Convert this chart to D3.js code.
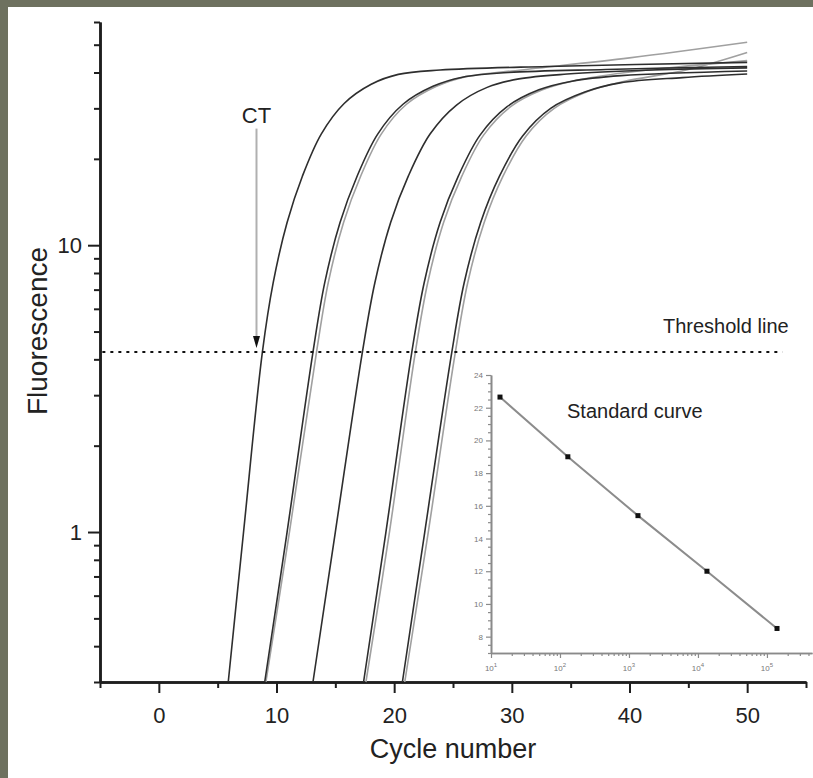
<!DOCTYPE html>
<html>
<head>
<meta charset="utf-8">
<script src="https://cdn.jsdelivr.net/npm/d3@7"></script>
<style>
body { margin: 0; background: #6e715f; }
svg { display: block; font-family: "Liberation Sans", Arial, sans-serif; }
</style>
</head>
<body>
<svg width="813" height="778"></svg>
<script>
// amplification runs, cycle number vs fluorescence
var run1Cycle = [5.9, 7.2, 8.8, 9.72, 10.9, 12.2, 13.8, 15.75, 18.05, 20.35, 23.9, 33, 50];
var run1Fluo  = [0.3, 1.0, 4.24, 7.4, 12.0, 17.4, 24.4, 31.2, 36.4, 39.4, 40.8, 42, 43.4];
var run2Cycle = [9.0, 10.9, 13.1, 14.1, 15.4, 16.85, 18.6, 20.75, 23.3, 25.8, 29.7, 38, 50];
var run2Fluo  = [0.3, 1.0, 4.24, 7.4, 12.0, 17.4, 24.4, 31, 35.8, 38.5, 40, 41, 42];
var run2bCycle = [9.1, 11.1, 13.4, 14.4, 15.7, 17.15, 18.9, 21.05, 23.6, 26.1, 30, 40, 50];
var run2bFluo  = [0.3, 1.0, 4.24, 7.4, 12.0, 17.4, 24.4, 31, 35.8, 38.7, 40.5, 45, 51];
var run3Cycle = [13.1, 15.0, 17.3, 18.36, 19.7, 21.2, 23.05, 25.3, 27.9, 30.6, 34.7, 42, 50];
var run3Fluo  = [0.3, 1.0, 4.24, 7.4, 12.0, 17.4, 24.4, 30.8, 35.5, 38, 39.5, 40.8, 41.5];
var run4Cycle = [17.4, 19.3, 21.5, 22.55, 23.9, 25.45, 27.3, 29.6, 32.3, 35.1, 39.3, 50];
var run4Fluo  = [0.3, 1.0, 4.24, 7.4, 12.0, 17.4, 24.2, 30.4, 34.8, 37.3, 39, 40.5];
var run4bCycle = [17.6, 19.6, 21.8, 22.85, 24.2, 25.75, 27.6, 29.9, 32.6, 35.4, 39.7, 50];
var run4bFluo  = [0.3, 1.0, 4.24, 7.4, 12.0, 17.4, 24.2, 30.4, 34.8, 37.5, 40, 44];
var run5Cycle = [20.7, 22.6, 24.9, 25.95, 27.35, 28.95, 30.9, 33.3, 36.2, 39.2, 44.5, 50];
var run5Fluo  = [0.3, 1.0, 4.24, 7.4, 12.0, 17.4, 24, 30, 34.2, 36.8, 38.4, 39.5];
var run5bCycle = [20.9, 22.9, 25.2, 26.25, 27.65, 29.25, 31.2, 33.6, 36.5, 39.5, 45, 50];
var run5bFluo  = [0.3, 1.0, 4.24, 7.4, 12.0, 17.4, 24, 30, 34.4, 37.2, 41, 47];

var runs = [
  {cycle: run2bCycle, fluo: run2bFluo, shade: "gray"},
  {cycle: run4bCycle, fluo: run4bFluo, shade: "gray"},
  {cycle: run5bCycle, fluo: run5bFluo, shade: "gray"},
  {cycle: run1Cycle, fluo: run1Fluo, shade: "dark"},
  {cycle: run2Cycle, fluo: run2Fluo, shade: "dark"},
  {cycle: run3Cycle, fluo: run3Fluo, shade: "dark"},
  {cycle: run4Cycle, fluo: run4Fluo, shade: "dark"},
  {cycle: run5Cycle, fluo: run5Fluo, shade: "dark"}
];

var thresholdValue = 4.24;
var ctCycle = 8.3;
var xTicks = [0, 10, 20, 30, 40, 50];
var xMinorTicks = [-5, 5, 15, 25, 35, 45, 55];
var yTicks = [1, 10];
var yMinorTicks = [0.3, 0.4, 0.5, 0.6, 0.7, 0.8, 0.9, 2, 3, 4, 5, 6, 7, 8, 9, 20, 30, 40, 50, 60];

// standard curve inset
var stdCopies = [13.5, 130, 1350, 13500, 140000];
var stdCt = [22.65, 19.0, 15.4, 12.0, 8.5];
var stdYTicks = [8, 10, 12, 14, 16, 18, 20, 22, 24];
var stdXTicks = [1e1, 1e2, 1e3, 1e4, 1e5];
var stdXExp = ["1", "2", "3", "4", "5"];

var svg = d3.select("svg");

svg.append("rect")
    .attr("x", 8).attr("y", 7)
    .attr("width", 805).attr("height", 771)
    .attr("fill", "#ffffff");

var x = d3.scaleLinear().domain([-5, 55]).range([100, 806]);
var y = d3.scaleLog().domain([0.3, 60]).range([682, 22]);

var axisColor = "#1e1e1e";

function styleAxis(g, w) {
  g.select(".domain").attr("stroke", axisColor).attr("stroke-width", w);
  g.selectAll(".tick line").attr("stroke", axisColor).attr("stroke-width", 2);
  g.selectAll("text").attr("fill", "#222").attr("font-size", 22);
}

// x axis
svg.append("g")
    .attr("transform", "translate(0,682)")
    .call(d3.axisBottom(x).tickValues(xMinorTicks).tickSize(6).tickSizeOuter(0).tickFormat(""))
    .call(styleAxis, 2.5);
svg.append("g")
    .attr("transform", "translate(0,682)")
    .call(d3.axisBottom(x).tickValues(xTicks).tickSize(11).tickPadding(14).tickSizeOuter(0))
    .call(styleAxis, 2.5);

// y axis
svg.append("g")
    .attr("transform", "translate(100,0)")
    .call(d3.axisLeft(y).tickValues(yMinorTicks).tickSize(6).tickSizeOuter(0).tickFormat(""))
    .call(styleAxis, 2.5);
svg.append("g")
    .attr("transform", "translate(100,0)")
    .call(d3.axisLeft(y).tickValues(yTicks).tickSize(12).tickPadding(6).tickSizeOuter(0).tickFormat(d3.format("d")))
    .call(styleAxis, 2.5);

svg.append("text")
    .attr("x", x(25)).attr("y", 758)
    .attr("text-anchor", "middle")
    .attr("font-size", 27).attr("fill", "#222")
    .text("Cycle number");

svg.append("text")
    .attr("transform", "translate(47,331) rotate(-90)")
    .attr("text-anchor", "middle")
    .attr("font-size", 28).attr("fill", "#222")
    .text("Fluorescence");

// amplification curves
var line = d3.line()
    .x(function(d) { return x(d[0]); })
    .y(function(d) { return y(d[1]); })
    .curve(d3.curveCatmullRom.alpha(0.5));

svg.selectAll(".run")
    .data(runs)
  .enter().append("path")
    .attr("class", "run")
    .attr("fill", "none")
    .attr("stroke", function(d) { return d.shade == "dark" ? "#2e2e2e" : "#a0a0a0"; })
    .attr("stroke-width", 1.6)
    .attr("d", function(d) { return line(d3.zip(d.cycle, d.fluo)); });

// threshold
svg.append("line")
    .attr("x1", x(-4.8)).attr("x2", x(53))
    .attr("y1", y(thresholdValue)).attr("y2", y(thresholdValue))
    .attr("stroke", "#111").attr("stroke-width", 2)
    .attr("stroke-dasharray", "3,5");

svg.append("text")
    .attr("x", 663).attr("y", y(thresholdValue) - 19)
    .attr("font-size", 20).attr("fill", "#222")
    .text("Threshold line");

// CT arrow
var arrowTop = y(25.5), arrowTip = y(thresholdValue) - 4;
svg.append("line")
    .attr("x1", x(ctCycle)).attr("x2", x(ctCycle))
    .attr("y1", arrowTop).attr("y2", arrowTip - 10)
    .attr("stroke", "#b0b0b0").attr("stroke-width", 2);
svg.append("path")
    .attr("d", "M" + (x(ctCycle) - 3.5) + "," + (arrowTip - 12) + "L" + (x(ctCycle) + 3.5) + "," + (arrowTip - 12) + "L" + x(ctCycle) + "," + arrowTip + "Z")
    .attr("fill", "#111");
svg.append("text")
    .attr("x", x(ctCycle)).attr("y", arrowTop - 6)
    .attr("text-anchor", "middle")
    .attr("font-size", 22).attr("fill", "#222")
    .text("CT");

// inset: standard curve
var sx = d3.scaleLog().domain([10, 4.5e5]).range([491, 812]);
var sy = d3.scaleLinear().domain([7, 24]).range([653, 375]);
var insetColor = "#8a8a8a";

var stdYMinor = d3.range(7, 24.01, 0.5).filter(function(v) { return v % 2 != 0; });
var stdXMinor = [];
stdXTicks.forEach(function(t) {
  for (var k = 2; k < 10; k++) if (t * k < 4.5e5) stdXMinor.push(t * k);
});

function styleInset(g) {
  g.select(".domain").attr("stroke", insetColor).attr("stroke-width", 1.6);
  g.selectAll(".tick line").attr("stroke", insetColor).attr("stroke-width", 1.2);
  g.selectAll("text").attr("fill", "#777").attr("font-size", 8);
}

svg.append("g")
    .attr("transform", "translate(491,0)")
    .call(d3.axisLeft(sy).tickValues(stdYMinor).tickSize(3).tickSizeOuter(0).tickFormat(""))
    .call(styleInset);
svg.append("g")
    .attr("transform", "translate(491,0)")
    .call(d3.axisLeft(sy).tickValues(stdYTicks).tickSize(5).tickPadding(3).tickSizeOuter(0))
    .call(styleInset);

svg.append("g")
    .attr("transform", "translate(0,653)")
    .call(d3.axisBottom(sx).tickValues(stdXMinor).tickSize(3).tickSizeOuter(0).tickFormat(""))
    .call(styleInset);
svg.append("g")
    .attr("transform", "translate(0,653)")
    .call(d3.axisBottom(sx).tickValues(stdXTicks).tickSize(5).tickPadding(4).tickSizeOuter(0).tickFormat(""))
    .call(styleInset);

var sxLabels = svg.selectAll(".stdlabel")
    .data(stdXTicks)
  .enter().append("text")
    .attr("class", "stdlabel")
    .attr("x", function(d) { return sx(d); })
    .attr("y", 671)
    .attr("text-anchor", "middle")
    .attr("font-size", 8).attr("fill", "#777");
sxLabels.append("tspan").text("10");
sxLabels.append("tspan")
    .attr("dy", -4).attr("font-size", 6)
    .text(function(d, i) { return stdXExp[i]; });

var stdLine = d3.line()
    .x(function(d) { return sx(d[0]); })
    .y(function(d) { return sy(d[1]); });

svg.append("path")
    .attr("d", stdLine(d3.zip(stdCopies, stdCt)))
    .attr("fill", "none")
    .attr("stroke", "#8c8c8c").attr("stroke-width", 2);

svg.selectAll(".stdpt")
    .data(d3.zip(stdCopies, stdCt))
  .enter().append("rect")
    .attr("class", "stdpt")
    .attr("x", function(d) { return sx(d[0]) - 2.5; })
    .attr("y", function(d) { return sy(d[1]) - 2.5; })
    .attr("width", 5).attr("height", 5)
    .attr("fill", "#111");

svg.append("text")
    .attr("x", 567).attr("y", 418)
    .attr("font-size", 20).attr("fill", "#222")
    .text("Standard curve");
</script>
</body>
</html>
